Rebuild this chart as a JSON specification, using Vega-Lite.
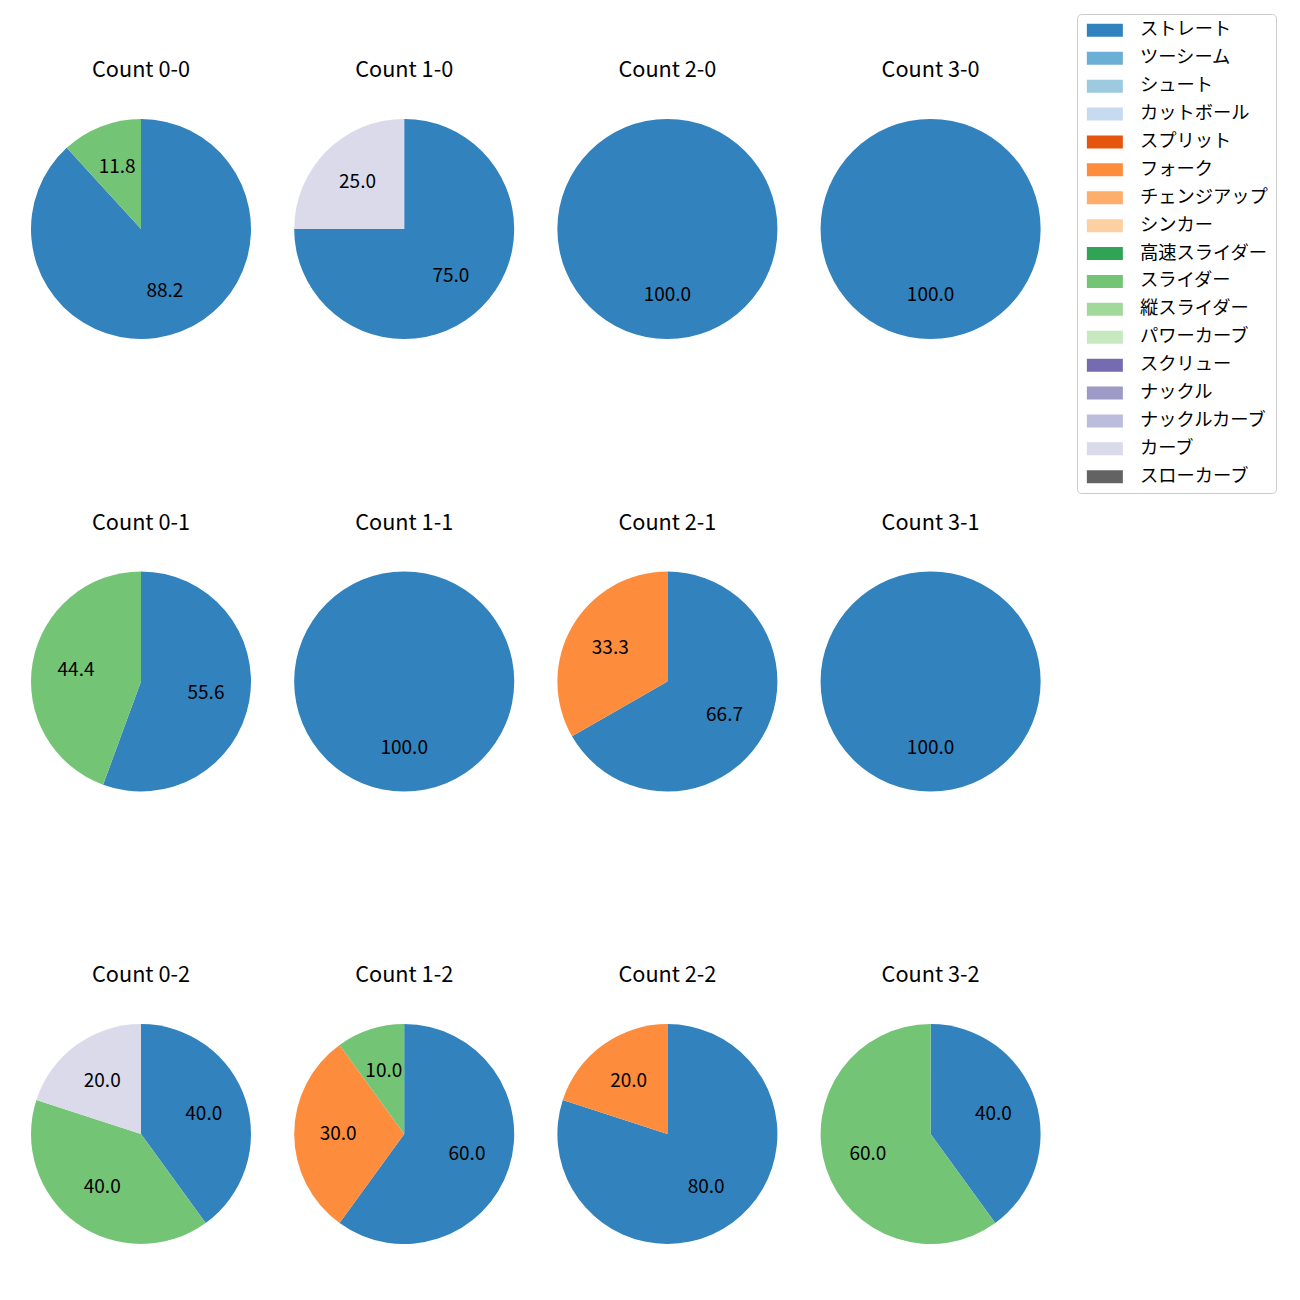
{
  "$schema": "https://vega.github.io/schema/vega-lite/v6.json",
  "padding": {"left": 31, "top": 13, "right": 0, "bottom": 0},
  "background": "white",
  "data": {"values": [
    {"count": "Count 0-0", "pitch": "ストレート", "idx": 0, "pct": 88.2},
    {"count": "Count 0-0", "pitch": "スライダー", "idx": 9, "pct": 11.8},
    {"count": "Count 1-0", "pitch": "ストレート", "idx": 0, "pct": 75.0},
    {"count": "Count 1-0", "pitch": "カーブ", "idx": 15, "pct": 25.0},
    {"count": "Count 2-0", "pitch": "ストレート", "idx": 0, "pct": 100.0},
    {"count": "Count 3-0", "pitch": "ストレート", "idx": 0, "pct": 100.0},
    {"count": "Count 0-1", "pitch": "ストレート", "idx": 0, "pct": 55.6},
    {"count": "Count 0-1", "pitch": "スライダー", "idx": 9, "pct": 44.4},
    {"count": "Count 1-1", "pitch": "ストレート", "idx": 0, "pct": 100.0},
    {"count": "Count 2-1", "pitch": "ストレート", "idx": 0, "pct": 66.7},
    {"count": "Count 2-1", "pitch": "フォーク", "idx": 5, "pct": 33.3},
    {"count": "Count 3-1", "pitch": "ストレート", "idx": 0, "pct": 100.0},
    {"count": "Count 0-2", "pitch": "ストレート", "idx": 0, "pct": 40.0},
    {"count": "Count 0-2", "pitch": "スライダー", "idx": 9, "pct": 40.0},
    {"count": "Count 0-2", "pitch": "カーブ", "idx": 15, "pct": 20.0},
    {"count": "Count 1-2", "pitch": "ストレート", "idx": 0, "pct": 60.0},
    {"count": "Count 1-2", "pitch": "フォーク", "idx": 5, "pct": 30.0},
    {"count": "Count 1-2", "pitch": "スライダー", "idx": 9, "pct": 10.0},
    {"count": "Count 2-2", "pitch": "ストレート", "idx": 0, "pct": 80.0},
    {"count": "Count 2-2", "pitch": "フォーク", "idx": 5, "pct": 20.0},
    {"count": "Count 3-2", "pitch": "ストレート", "idx": 0, "pct": 40.0},
    {"count": "Count 3-2", "pitch": "スライダー", "idx": 9, "pct": 60.0}
  ]},
  "facet": {
    "field": "count",
    "type": "nominal",
    "sort": ["Count 0-0", "Count 1-0", "Count 2-0", "Count 3-0", "Count 0-1", "Count 1-1", "Count 2-1", "Count 3-1", "Count 0-2", "Count 1-2", "Count 2-2", "Count 3-2"],
    "header": {"title": null, "labelFont": "Noto Sans CJK JP", "labelFontSize": 21.7, "labelColor": "black", "labelPadding": 37}
  },
  "columns": 4,
  "spacing": {"column": 43.2, "row": 173.5},
  "spec": {
    "width": 220,
    "height": 220,
    "layer": [
      {
        "mark": {"type": "arc", "stroke": null},
        "encoding": {
          "theta": {"field": "pct", "type": "quantitative", "stack": "normalize"},
          "order": {"field": "idx", "type": "quantitative"},
          "color": {
            "field": "pitch",
            "type": "nominal",
            "scale": {
              "domain": ["ストレート", "ツーシーム", "シュート", "カットボール", "スプリット", "フォーク", "チェンジアップ", "シンカー", "高速スライダー", "スライダー", "縦スライダー", "パワーカーブ", "スクリュー", "ナックル", "ナックルカーブ", "カーブ", "スローカーブ"],
              "range": ["#3182bd", "#6baed6", "#9ecae1", "#c6dbef", "#e6550d", "#fd8d3c", "#fdae6b", "#fdd0a2", "#31a354", "#74c476", "#a1d99b", "#c7e9c0", "#756bb1", "#9e9ac8", "#bcbddc", "#dadaeb", "#636363"]
            },
            "legend": {
              "title": null,
              "orient": "none",
              "legendX": 1046,
              "legendY": -105,
              "labelFont": "Noto Sans CJK JP",
              "labelFontSize": 18.3,
              "labelColor": "black",
              "labelOffset": 37.4,
              "labelLimit": 300,
              "symbolType": "M-1,-1H4.54V1H-1Z",
              "symbolSize": 169,
              "symbolStrokeWidth": 0,
              "symbolOpacity": 1,
              "rowPadding": 8.9,
              "padding": 7.2,
              "strokeColor": "#cccccc",
              "fillColor": "white",
              "cornerRadius": 4
            }
          }
        }
      },
      {
        "mark": {"type": "text", "radius": 66, "font": "Noto Sans CJK JP", "fontSize": 19, "color": "black"},
        "encoding": {
          "theta": {"field": "pct", "type": "quantitative", "stack": "normalize"},
          "order": {"field": "idx", "type": "quantitative"},
          "text": {"field": "pct", "type": "quantitative", "format": ".1f"}
        }
      }
    ]
  },
  "config": {"view": {"stroke": null}}
}
